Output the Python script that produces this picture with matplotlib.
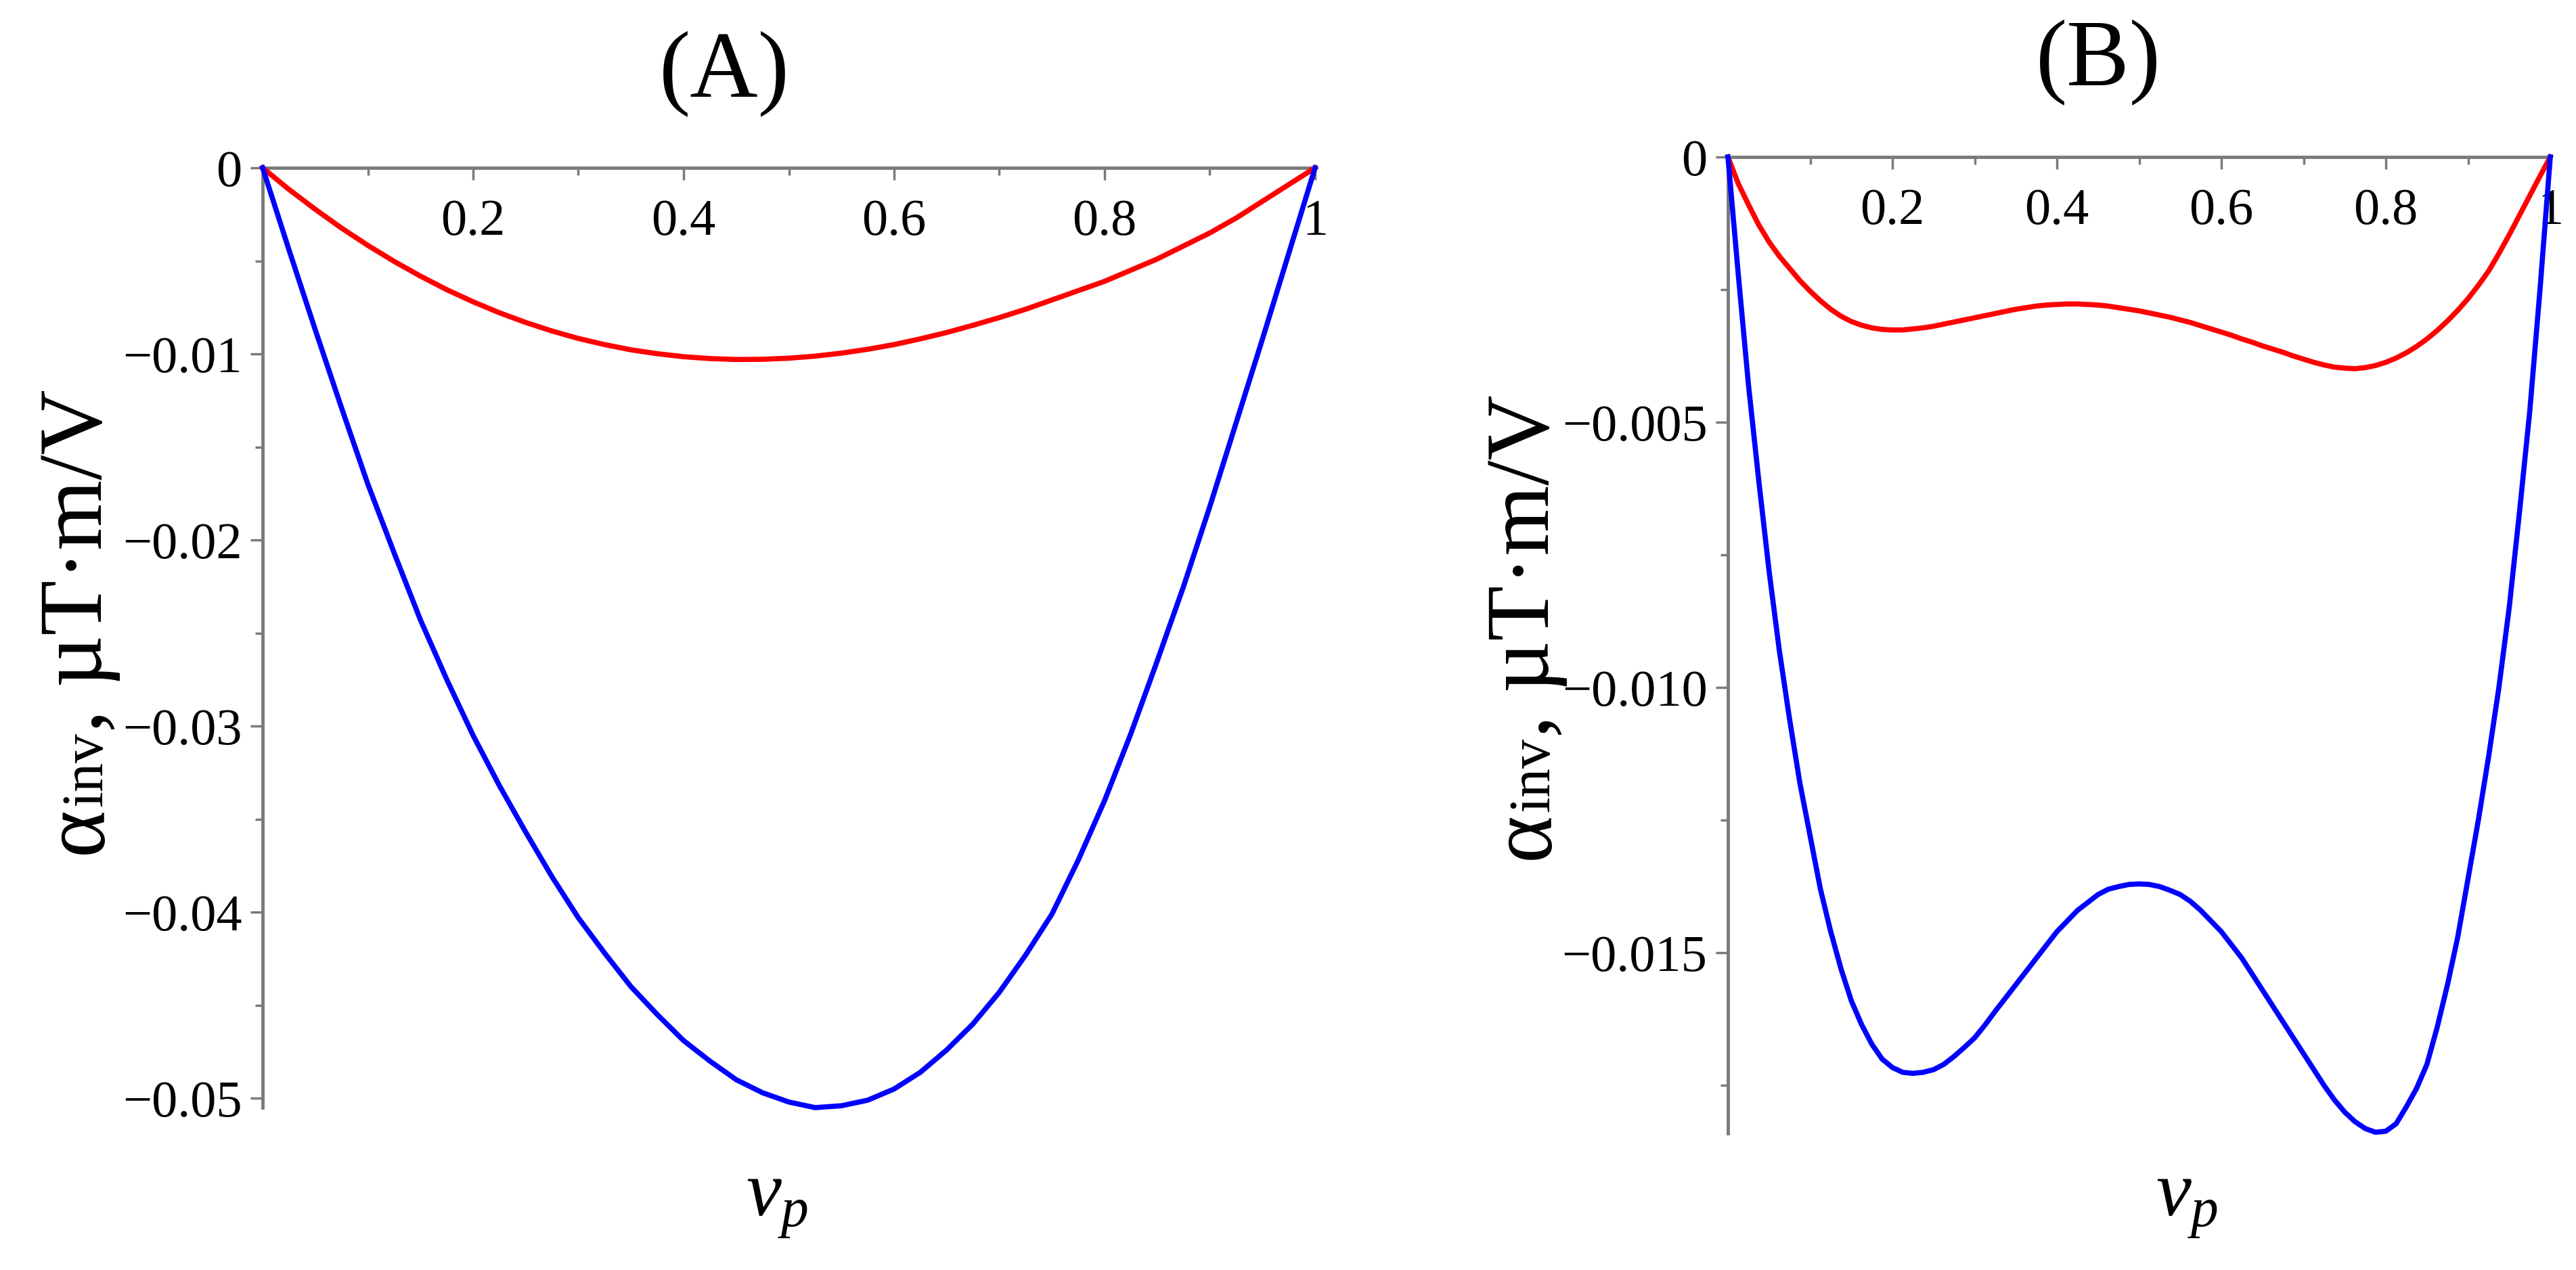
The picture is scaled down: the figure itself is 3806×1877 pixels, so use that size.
import matplotlib
matplotlib.use("Agg")
import matplotlib.pyplot as plt
from matplotlib.ticker import FixedLocator

plt.rcParams["mathtext.fontset"] = "custom"
plt.rcParams["mathtext.rm"] = "Liberation Serif"
plt.rcParams["mathtext.it"] = "Liberation Serif:italic"

# panel (A)
xa = [0, 0.025, 0.05, 0.075, 0.1, 0.125, 0.15, 0.175, 0.2, 0.225, 0.25,
      0.275, 0.3, 0.325, 0.35, 0.375, 0.4, 0.425, 0.45, 0.475, 0.5,
      0.525, 0.55, 0.575, 0.6, 0.625, 0.65, 0.675, 0.7, 0.725, 0.75,
      0.775, 0.8, 0.825, 0.85, 0.875, 0.9, 0.925, 0.95, 0.975, 1.0]
red_a = [0, -0.00116, -0.00223, -0.00324, -0.00417, -0.00503, -0.00582,
         -0.00655, -0.0072, -0.00779, -0.00831, -0.00877, -0.00917,
         -0.0095, -0.00978, -0.00999, -0.01015, -0.01025, -0.0103,
         -0.01029, -0.01023, -0.01012, -0.00996, -0.00975, -0.0095,
         -0.00919, -0.00885, -0.00846, -0.00805, -0.0076, -0.0071,
         -0.0066, -0.0061, -0.0055, -0.0049, -0.0042, -0.0035, -0.0027,
         -0.0018, -0.0009, 0]
blue_a = [0, -0.0044, -0.0087, -0.0129, -0.0170, -0.0207, -0.0243, -0.0275,
          -0.0305, -0.0332, -0.0357, -0.0381, -0.0403, -0.0422, -0.0440,
          -0.0455, -0.0469, -0.0480, -0.0490, -0.0497, -0.0502, -0.0505,
          -0.0504, -0.0501, -0.0495, -0.0486, -0.0474, -0.0460, -0.0443,
          -0.0423, -0.0401, -0.0372, -0.0340, -0.0304, -0.0265, -0.0225,
          -0.0182, -0.0137, -0.0092, -0.0046, 0]

# panel (B)
xb = [0, 0.0125, 0.025, 0.0375, 0.05, 0.0625, 0.075, 0.0875, 0.1, 0.1125,
      0.125, 0.1375, 0.15, 0.1625, 0.175, 0.1875, 0.2, 0.2125, 0.225,
      0.2375, 0.25, 0.2625, 0.275, 0.2875, 0.3, 0.3125, 0.325, 0.3375,
      0.35, 0.3625, 0.375, 0.3875, 0.4, 0.4125, 0.425, 0.4375, 0.45,
      0.4625, 0.475, 0.4875, 0.5, 0.5125, 0.525, 0.5375, 0.55, 0.5625,
      0.575, 0.5875, 0.6, 0.6125, 0.625, 0.6375, 0.65, 0.6625, 0.675,
      0.6875, 0.7, 0.7125, 0.725, 0.7375, 0.75, 0.7625, 0.775, 0.7875,
      0.8, 0.8125, 0.825, 0.8375, 0.85, 0.8625, 0.875, 0.8875, 0.9,
      0.9125, 0.925, 0.9375, 0.95, 0.9625, 0.975, 0.9875, 1.0]
red_b = [0, -0.0005, -0.0009, -0.00128, -0.0016, -0.00187, -0.0021,
         -0.00233, -0.00253, -0.00271, -0.00287, -0.003, -0.0031, -0.00317,
         -0.00322, -0.00325, -0.00326, -0.00326, -0.00324, -0.00322,
         -0.00319, -0.00315, -0.00311, -0.00307, -0.00303, -0.00299,
         -0.00295, -0.00291, -0.00287, -0.00284, -0.00281, -0.00279,
         -0.00278, -0.00277, -0.00277, -0.00278, -0.00279, -0.00281,
         -0.00284, -0.00287, -0.0029, -0.00294, -0.00298, -0.00302,
         -0.00307, -0.00312, -0.00318, -0.00324, -0.0033, -0.00336,
         -0.00343, -0.00349, -0.00356, -0.00362, -0.00368, -0.00375,
         -0.00381, -0.00387, -0.00392, -0.00396, -0.00398, -0.00399,
         -0.00397, -0.00393, -0.00387, -0.00379, -0.00369, -0.00357,
         -0.00343, -0.00327, -0.00309, -0.00289, -0.00267, -0.00242,
         -0.00215, -0.00182, -0.00147, -0.0011, -0.00073, -0.00036, 0]
blue_b = [0, -0.0022, -0.0043, -0.0061, -0.0078, -0.0093, -0.0106, -0.0118,
          -0.0128, -0.0138, -0.0146, -0.0153, -0.0159, -0.01635, -0.01672,
          -0.0170, -0.01716, -0.01725, -0.01727, -0.01725, -0.0172,
          -0.0171, -0.01695, -0.01678, -0.0166, -0.01636, -0.0161,
          -0.01585, -0.0156, -0.01535, -0.0151, -0.01485, -0.0146,
          -0.0144, -0.0142, -0.01405, -0.0139, -0.0138, -0.01375,
          -0.01371, -0.0137, -0.01371, -0.01375, -0.01382, -0.0139,
          -0.01403, -0.0142, -0.0144, -0.0146, -0.01485, -0.0151, -0.0154,
          -0.0157, -0.0160, -0.0163, -0.0166, -0.0169, -0.0172, -0.0175,
          -0.01777, -0.0180, -0.01818, -0.01831, -0.01838, -0.01836,
          -0.01822, -0.0179, -0.01755, -0.0171, -0.0164, -0.0156, -0.0147,
          -0.0136, -0.0125, -0.0113, -0.0100, -0.0085, -0.0067, -0.0048,
          -0.0025, 0]

x_ticks = [0.2, 0.4, 0.6, 0.8, 1.0]
x_labels = ["0.2", "0.4", "0.6", "0.8", "1"]
x_minor = [0.1, 0.3, 0.5, 0.7, 0.9]
ya_ticks = [0, -0.01, -0.02, -0.03, -0.04, -0.05]
ya_labels = ["0", "\u22120.01", "\u22120.02", "\u22120.03", "\u22120.04", "\u22120.05"]
ya_minor = [-0.005, -0.015, -0.025, -0.035, -0.045]
yb_ticks = [0, -0.005, -0.010, -0.015]
yb_labels = ["0", "\u22120.005", "\u22120.010", "\u22120.015"]
yb_minor = [-0.0025, -0.0075, -0.0125, -0.0175]

W, H = 3806, 1877
FONT = "Liberation Serif"
GRAY = "#7a7a7a"

fig = plt.figure(figsize=(W / 100, H / 100), dpi=100)


def px_axes(x0, y0, x1, y1):
    return fig.add_axes([x0 / W, 1 - y1 / H, (x1 - x0) / W, (y1 - y0) / H])


def style(ax, ymin, yt, yl, ym):
    ax.set_xlim(0, 1)
    ax.set_ylim(ymin, 0)
    for s in ["top", "right"]:
        ax.spines[s].set_visible(False)
    ax.spines["bottom"].set_position(("data", 0))
    for s in ["bottom", "left"]:
        ax.spines[s].set_color(GRAY)
        ax.spines[s].set_linewidth(3.5)
    ax.set_xticks(x_ticks)
    ax.set_xticklabels(x_labels)
    ax.xaxis.set_minor_locator(FixedLocator(x_minor))
    ax.set_yticks(yt)
    ax.set_yticklabels(yl)
    ax.yaxis.set_minor_locator(FixedLocator(ym))
    ax.tick_params(axis="x", which="major", direction="out", length=13,
                   width=2.5, color=GRAY, pad=20, labelsize=55)
    ax.tick_params(axis="y", which="major", direction="out", length=13,
                   width=2.5, color=GRAY, pad=9, labelsize=55)
    ax.tick_params(which="minor", direction="out", length=8, width=2.5,
                   color=GRAY)
    for t in ax.get_xticklabels() + ax.get_yticklabels():
        t.set_fontfamily(FONT)


ax_a = px_axes(388, 248, 1943, 1637)
ax_a.plot(xa, red_a, color="#ff0000", lw=5.5, clip_on=False, zorder=3)
ax_a.plot(xa, blue_a, color="#0000ff", lw=5.5, clip_on=False, zorder=3)
style(ax_a, -0.0505, ya_ticks, ya_labels, ya_minor)

ax_b = px_axes(2553, 232, 3768, 1675)
ax_b.plot(xb, red_b, color="#ff0000", lw=5.5, clip_on=False, zorder=3)
ax_b.plot(xb, blue_b, color="#0000ff", lw=5.5, clip_on=False, zorder=3)
style(ax_b, -0.0184, yb_ticks, yb_labels, yb_minor)


def ftext(x, y, s, **kw):
    return fig.text(x / W, 1 - y / H, s, family=FONT, **kw)


# panel titles
ftext(1070, 110, "(A)", fontsize=100, ha="center", va="center")
ftext(3100, 93, "(B)", fontsize=100, ha="center", va="center")

# x labels
for cx in [1148, 3231]:
    ftext(cx, 1780, r"$v_p$", fontsize=84, ha="center", va="center")

# rotated y labels built from pieces so that "inv" sits on the baseline
renderer = fig.canvas.get_renderer()


def ylabel(xbase, ystart):
    y = ystart
    for s, fs in [("\u03b1", 96), ("inv", 62), (", \u00b5T\u00b7m/V", 96)]:
        t = ftext(xbase, y, s, fontsize=fs, rotation=90, rotation_mode="anchor",
                  ha="left", va="baseline")
        bb = t.get_window_extent(renderer)
        y -= bb.height


ylabel(150, 1262)
ylabel(2288, 1270)

fig.savefig("out.png", dpi=100)
